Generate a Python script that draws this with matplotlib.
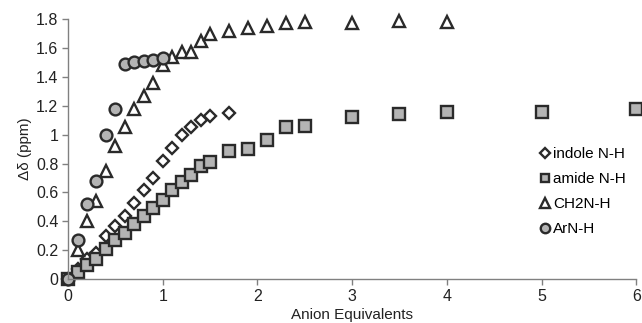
import matplotlib
matplotlib.use('Agg')
import matplotlib.pyplot as plt

plt.rcParams['font.family'] = ['Liberation Sans', 'DejaVu Sans']

# anion equivalents and chemical shift changes (ppm)
indole_x = [0, 0.1, 0.2, 0.3, 0.4, 0.5, 0.6, 0.7, 0.8, 0.9, 1.0, 1.1, 1.2, 1.3, 1.4, 1.5, 1.7]
indole_y = [0, 0.07, 0.14, 0.18, 0.30, 0.37, 0.44, 0.53, 0.62, 0.70, 0.82, 0.91, 1.00, 1.05, 1.10, 1.13, 1.15]

amide_x = [0, 0.1, 0.2, 0.3, 0.4, 0.5, 0.6, 0.7, 0.8, 0.9, 1.0, 1.1, 1.2, 1.3, 1.4, 1.5,
           1.7, 1.9, 2.1, 2.3, 2.5, 3.0, 3.5, 4.0, 5.0, 6.0]
amide_y = [0, 0.05, 0.10, 0.14, 0.21, 0.27, 0.32, 0.38, 0.44, 0.49, 0.55, 0.62, 0.67, 0.72, 0.78, 0.81,
           0.89, 0.90, 0.96, 1.05, 1.06, 1.12, 1.14, 1.16, 1.16, 1.18]

ch2_x = [0.1, 0.2, 0.3, 0.4, 0.5, 0.6, 0.7, 0.8, 0.9, 1.0, 1.1, 1.2, 1.3, 1.4, 1.5,
         1.7, 1.9, 2.1, 2.3, 2.5, 3.0, 3.5, 4.0]
ch2_y = [0.20, 0.40, 0.54, 0.75, 0.92, 1.05, 1.18, 1.27, 1.36, 1.48, 1.54, 1.57, 1.57, 1.65, 1.70,
         1.72, 1.74, 1.75, 1.77, 1.78, 1.77, 1.79, 1.78]

arn_x = [0, 0.1, 0.2, 0.3, 0.4, 0.5, 0.6, 0.7, 0.8, 0.9, 1.0]
arn_y = [0, 0.27, 0.52, 0.68, 1.00, 1.18, 1.49, 1.50, 1.51, 1.52, 1.53]

edge = '#2a2a2a'
gray = '#b4b4b4'
txt = '#222222'

fig = plt.figure(figsize=(6.42, 3.23), dpi=100)
ax = fig.add_axes([0.106, 0.136, 0.885, 0.805])

common = dict(ls='none', mec=edge, mew=1.7, clip_on=False)
ax.plot(indole_x, indole_y, 'D', ms=6, mfc='white', label='indole N-H', **common)
ax.plot(amide_x, amide_y, 's', ms=8, mfc=gray, label='amide N-H', **common)
ax.plot(ch2_x, ch2_y, '^', ms=8.5, mfc='white', label='CH2N-H', **common)
ax.plot(arn_x, arn_y, 'o', ms=8.5, mfc=gray, label='ArN-H', **common)

ax.set_xlim(0, 6)
ax.set_ylim(0, 1.8)
ax.set_xticks(range(7))
ax.set_yticks([0, 0.2, 0.4, 0.6, 0.8, 1.0, 1.2, 1.4, 1.6, 1.8])
ax.set_yticklabels(['0', '0.2', '0.4', '0.6', '0.8', '1', '1.2', '1.4', '1.6', '1.8'])

for s in ['top', 'right']:
    ax.spines[s].set_visible(False)
for s in ['left', 'bottom']:
    ax.spines[s].set_color('#808080')
    ax.spines[s].set_linewidth(1)
ax.tick_params(axis='both', colors='#808080', labelcolor=txt, labelsize=11.5, length=4, width=1)
ax.tick_params(axis='x', pad=3)
ax.tick_params(axis='y', pad=3)

ax.set_xlabel('Anion Equivalents', fontsize=11, color=txt, labelpad=3)
ax.set_ylabel('Δδ (ppm)', fontsize=11, color=txt, labelpad=3)

ax.legend(loc='center left', bbox_to_anchor=(0.833, 0.335), frameon=False, fontsize=11,
          markerscale=0.8, handlelength=0.5, handletextpad=0.25, labelspacing=0.72,
          borderaxespad=0, borderpad=0)

fig.savefig('out.png', dpi=100)
